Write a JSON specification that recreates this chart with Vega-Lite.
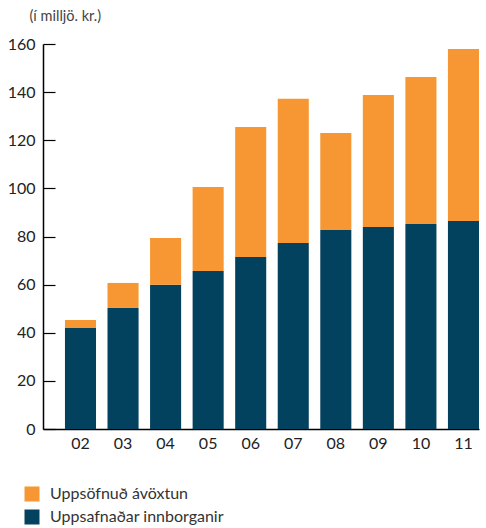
{
  "$schema": "https://vega.github.io/schema/vega-lite/v6.json",
  "autosize": {"type": "none"},
  "width": 436,
  "height": 385,
  "padding": {"left": 43, "top": 44, "right": 7, "bottom": 99},
  "background": "white",
  "config": {
    "view": {"stroke": null},
    "font": "Lato",
    "axis": {"grid": false, "domainColor": "#000000", "tickColor": "#000000", "labelFont": "Lato", "labelColor": "#222222", "labelFontSize": 16}
  },
  "data": {
    "values": [
      {"year": "02", "series": "Uppsafnaðar innborganir", "value": 42.0},
      {"year": "02", "series": "Uppsöfnuð ávöxtun", "value": 3.3},
      {"year": "03", "series": "Uppsafnaðar innborganir", "value": 50.3},
      {"year": "03", "series": "Uppsöfnuð ávöxtun", "value": 10.4},
      {"year": "04", "series": "Uppsafnaðar innborganir", "value": 59.9},
      {"year": "04", "series": "Uppsöfnuð ávöxtun", "value": 19.5},
      {"year": "05", "series": "Uppsafnaðar innborganir", "value": 65.7},
      {"year": "05", "series": "Uppsöfnuð ávöxtun", "value": 34.9},
      {"year": "06", "series": "Uppsafnaðar innborganir", "value": 71.5},
      {"year": "06", "series": "Uppsöfnuð ávöxtun", "value": 54.0},
      {"year": "07", "series": "Uppsafnaðar innborganir", "value": 77.3},
      {"year": "07", "series": "Uppsöfnuð ávöxtun", "value": 59.9},
      {"year": "08", "series": "Uppsafnaðar innborganir", "value": 82.7},
      {"year": "08", "series": "Uppsöfnuð ávöxtun", "value": 40.3},
      {"year": "09", "series": "Uppsafnaðar innborganir", "value": 84.0},
      {"year": "09", "series": "Uppsöfnuð ávöxtun", "value": 54.8},
      {"year": "10", "series": "Uppsafnaðar innborganir", "value": 85.2},
      {"year": "10", "series": "Uppsöfnuð ávöxtun", "value": 61.1},
      {"year": "11", "series": "Uppsafnaðar innborganir", "value": 86.4},
      {"year": "11", "series": "Uppsöfnuð ávöxtun", "value": 71.5}
    ]
  },
  "mark": {"type": "bar"},
  "encoding": {
    "x": {
      "field": "year",
      "type": "ordinal",
      "scale": {"paddingInner": 0.27, "paddingOuter": 0.258, "align": 1},
      "axis": {"title": null, "labelAngle": 0, "ticks": false, "labelPadding": 6, "domainWidth": 1.5}
    },
    "y": {
      "field": "value",
      "type": "quantitative",
      "aggregate": "sum",
      "stack": "zero",
      "scale": {"domain": [0, 160], "nice": false},
      "axis": {
        "values": [0, 20, 40, 60, 80, 100, 120, 140, 160],
        "tickSize": -12,
        "labelPadding": 20,
        "domainWidth": 1.5,
        "tickWidth": 1.2,
        "title": "(í milljö. kr.)",
        "titleAngle": 0,
        "titleX": -14,
        "titleY": -28,
        "titleAlign": "left",
        "titleBaseline": "middle",
        "titleFont": "Lato",
        "titleFontSize": 14.5,
        "titleFontWeight": "normal",
        "titleColor": "#444444"
      }
    },
    "color": {
      "field": "series",
      "type": "nominal",
      "scale": {"domain": ["Uppsöfnuð ávöxtun", "Uppsafnaðar innborganir"], "range": ["#F69733", "#03425F"]},
      "legend": {
        "title": null,
        "orient": "none",
        "legendX": -19,
        "legendY": 442,
        "symbolType": "square",
        "symbolSize": 225,
        "symbolStrokeWidth": 0,
        "symbolOpacity": 1,
        "labelFont": "Lato",
        "labelFontSize": 16,
        "labelLimit": 400,
        "labelColor": "#333333",
        "labelOffset": 10,
        "rowPadding": 7,
        "padding": 0
      }
    },
    "order": {"field": "series", "sort": "ascending"}
  }
}
